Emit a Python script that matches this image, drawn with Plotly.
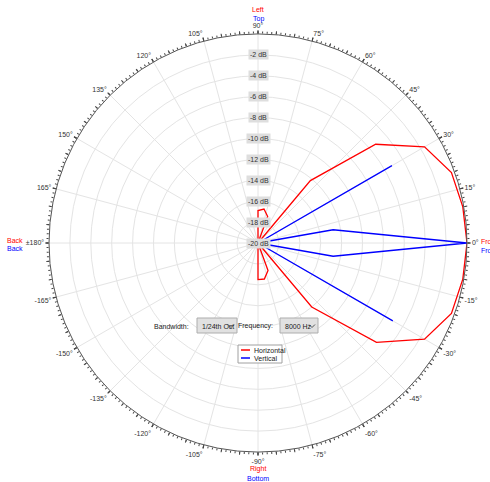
import plotly.graph_objects as go

# ---------------- data ----------------
theta_deg = [-180, -170, -160, -150, -140, -130, -120, -110, -100, -90,
             -80, -70, -60, -50, -40, -30, -20, -10, 0, 10,
             20, 30, 40, 50, 60, 70, 80, 90, 100, 110,
             120, 130, 140, 150, 160, 170, 180]
horizontal_db = [-20, -20, -20, -20, -20, -20, -20, -20, -20, -16.5,
                 -16.5, -17.2, -20, -12.0, -5.2, -1.6, -0.3, -0.1, 0.0, -0.1,
                 -0.3, -1.6, -5.3, -12.2, -20, -17.3, -16.7, -16.9, -20, -20,
                 -20, -20, -20, -20, -20, -20, -20]
vertical_db = [-20, -20, -20, -20, -20, -20, -20, -20, -20, -20,
               -20, -20, -20, -20, -20, -5.1, -20, -12.7, 0.0, -12.7,
               -20, -5.2, -20, -20, -20, -20, -20, -20, -20, -20,
               -20, -20, -20, -20, -20, -20, -20]

angle_tickvals = [0, 15, 30, 45, 60, 75, 90, 105, 120, 135, 150, 165,
                  180, 195, 210, 225, 240, 255, 270, 285, 300, 315, 330, 345]
angle_ticktext = ["0°", "15°", "30°", "45°", "60°", "75°", "90°", "105°", "120°",
                  "135°", "150°", "165°", "±180°", "-165°", "-150°", "-135°",
                  "-120°", "-105°", "-90°", "-75°", "-60°", "-45°", "-30°", "-15°"]
db_levels = [-2, -4, -6, -8, -10, -12, -14, -16, -18, -20]
db_labels = ["-2 dB", "-4 dB", "-6 dB", "-8 dB", "-10 dB", "-12 dB",
             "-14 dB", "-16 dB", "-18 dB", "-20 dB"]
r_min, r_max = -20, 0

RED = "#FF0000"
BLUE = "#0000FF"
GRID = "#E4E4E4"
FONT = "Liberation Sans"
FS = 7

W, H = 490, 482
ML, MR, MT, MB = 49, 23, 34, 30
PW, PH = W - ML - MR, H - MT - MB


def px(xp):
    return (xp - ML) / PW


def py(yp):
    return (H - MB - yp) / PH


fig = go.Figure()
fig.add_trace(go.Scatterpolar(r=horizontal_db, theta=theta_deg, mode="lines",
                              name="Horizontal", line=dict(color=RED, width=1.3),
                              subplot="polar"))
fig.add_trace(go.Scatterpolar(r=vertical_db, theta=theta_deg, mode="lines",
                              name="Vertical", line=dict(color=BLUE, width=1.3),
                              subplot="polar"))
# invisible helpers so the tick-ring subplots are created
for sp in ["polar2", "polar3"]:
    fig.add_trace(go.Scatterpolar(r=[r_min], theta=[0], mode="markers",
                                  marker=dict(size=1, opacity=0), hoverinfo="skip",
                                  showlegend=False, subplot=sp))

base_radial = dict(range=[r_min, r_max], visible=False)
fig.update_layout(
    width=W, height=H,
    margin=dict(l=ML, r=MR, t=MT, b=MB),
    paper_bgcolor="white",
    showlegend=False,
    font=dict(family=FONT, size=FS, color="#333333"),
    polar=dict(
        domain=dict(x=[0, 1], y=[0, 1]),
        bgcolor="white",
        radialaxis=dict(range=[r_min, r_max], tick0=r_min, dtick=2,
                        showticklabels=False, ticks="", showline=False,
                        gridcolor=GRID, gridwidth=1),
        angularaxis=dict(rotation=0, direction="counterclockwise",
                         tickmode="array", tickvals=angle_tickvals,
                         ticktext=angle_ticktext, ticks="outside", ticklen=3,
                         tickcolor="#333333", linecolor="#555555", linewidth=1,
                         gridcolor=GRID, gridwidth=1,
                         tickfont=dict(family=FONT, size=FS, color="#333333")),
    ),
    polar2=dict(
        domain=dict(x=[0, 1], y=[0, 1]),
        bgcolor="rgba(0,0,0,0)",
        radialaxis=base_radial,
        angularaxis=dict(rotation=0, direction="counterclockwise",
                         tickmode="linear", tick0=0, dtick=1.25, ticks="outside",
                         ticklen=2, tickcolor="#444444", showticklabels=False,
                         showgrid=False, showline=False),
    ),
    polar3=dict(
        domain=dict(x=[0, 1], y=[0, 1]),
        bgcolor="rgba(0,0,0,0)",
        radialaxis=base_radial,
        angularaxis=dict(rotation=0, direction="counterclockwise",
                         tickmode="linear", tick0=0, dtick=5, ticks="outside",
                         ticklen=3, tickcolor="#444444", showticklabels=False,
                         showgrid=False, showline=False),
    ),
)

ann = []
# radial dB labels along the 90° spoke
for lvl, lab in zip(db_levels, db_labels):
    ann.append(dict(x=0.5, y=0.5 + 0.5 * (lvl - r_min) / (r_max - r_min),
                    xref="paper", yref="paper", text=lab, showarrow=False,
                    xanchor="center", yanchor="middle",
                    bgcolor="#DEDEDE", borderpad=1,
                    font=dict(family=FONT, size=FS, color="#333333")))

# direction captions
caps = [("Left", RED, 258, 10, "center"), ("Top", BLUE, 258, 19, "center"),
        ("Right", RED, 258, 469, "center"), ("Bottom", BLUE, 258, 478, "center"),
        ("Back", RED, 25, 240, "right"), ("Back", BLUE, 25, 248, "right"),
        ("Front", RED, 479, 241, "left"), ("Front", BLUE, 479, 250, "left")]
for t, c, xx, yy, anc in caps:
    ann.append(dict(x=px(xx), y=py(yy), xref="paper", yref="paper", text=t,
                    showarrow=False, xanchor=anc, yanchor="middle",
                    font=dict(family=FONT, size=FS, color=c)))


def label(t, xx, yy, anc):
    ann.append(dict(x=px(xx), y=py(yy), xref="paper", yref="paper", text=t,
                    showarrow=False, xanchor=anc, yanchor="middle",
                    font=dict(family=FONT, size=FS, color="#222222")))


# control strip
label("Bandwidth:", 191, 326, "right")
label("Frequency:", 275, 326, "right")
label("1/24th Oct", 200, 326, "left")
label("8000 Hz", 283, 326, "left")
# legend texts
label("Horizontal", 252, 350, "left")
label("Vertical", 252, 358, "left")

shapes = []
for x0, x1 in [(197, 237), (280, 318)]:
    shapes.append(dict(type="rect", xref="paper", yref="paper", x0=px(x0), x1=px(x1),
                       y0=py(333), y1=py(318), fillcolor="#E1E1E1",
                       line=dict(color="#ADADAD", width=1), layer="above"))
    cx = x1 - 6
    shapes.append(dict(type="path", xref="paper", yref="paper",
                       path=f"M {px(cx-3)} {py(324.5)} L {px(cx)} {py(327.5)} L {px(cx+3)} {py(324.5)}",
                       line=dict(color="#555555", width=1), layer="above"))
shapes.append(dict(type="rect", xref="paper", yref="paper", x0=px(238), x1=px(282),
                   y0=py(363), y1=py(345), fillcolor="white",
                   line=dict(color="#A0A0A0", width=1), layer="above"))
shapes.append(dict(type="line", xref="paper", yref="paper", x0=px(241), x1=px(250),
                   y0=py(350), y1=py(350), line=dict(color=RED, width=1.5), layer="above"))
shapes.append(dict(type="line", xref="paper", yref="paper", x0=px(241), x1=px(250),
                   y0=py(358), y1=py(358), line=dict(color=BLUE, width=1.5), layer="above"))

fig.update_layout(annotations=ann, shapes=shapes)
fig.write_html("out.html", config={"displayModeBar": False},
               post_script="document.body.style.margin='0';document.body.style.overflow='hidden';")
